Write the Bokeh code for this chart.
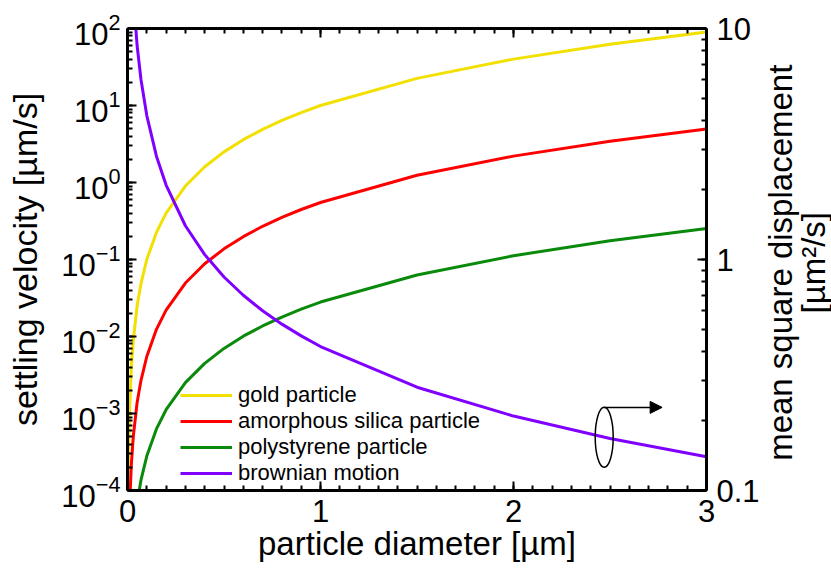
import math

from bokeh.plotting import figure
from bokeh.layouts import row
from bokeh.core.properties import value
from bokeh.models import (Range1d, LogScale, LogAxis, LinearAxis, FixedTicker,
                          Legend, LegendItem, Arrow, NormalHead,
                          CustomJSTickFormatter, LogTickFormatter)
from bokeh.embed import file_html
from bokeh.resources import INLINE

# particle diameter [µm]
diameter = [0.003, 0.005, 0.01, 0.02, 0.03, 0.05, 0.07, 0.1, 0.15, 0.2, 0.3,
            0.4, 0.5, 0.6, 0.7, 0.8, 0.9, 1.0, 1.5, 2.0, 2.5, 3.0]

# settling velocity [µm/s]
gold = [9e-5, 2.5e-4, 1.0e-3, 4.0e-3, 9.0e-3, 2.5e-2, 4.9e-2, 0.10, 0.225, 0.40,
        0.90, 1.6, 2.5, 3.6, 4.9, 6.4, 8.1, 10.0, 22.5, 40.0, 62.5, 90.0]
silica = [5e-6, 1.4e-5, 5.5e-5, 2.2e-4, 5.0e-4, 1.4e-3, 2.7e-3, 5.5e-3, 1.24e-2,
          2.2e-2, 4.95e-2, 8.8e-2, 0.1375, 0.198, 0.27, 0.352, 0.446, 0.55,
          1.24, 2.2, 3.44, 4.95]
polystyrene = [2.5e-7, 7e-7, 2.8e-6, 1.12e-5, 2.5e-5, 7e-5, 1.37e-4, 2.8e-4,
               6.3e-4, 1.12e-3, 2.52e-3, 4.48e-3, 7.0e-3, 1.01e-2, 1.37e-2,
               1.79e-2, 2.27e-2, 2.8e-2, 6.3e-2, 0.112, 0.175, 0.252]

# mean square displacement [µm²/s]
brownian = [140.0, 84.0, 42.0, 21.0, 14.0, 8.4, 6.0, 4.2, 2.8, 2.1, 1.4, 1.05,
            0.84, 0.70, 0.60, 0.525, 0.467, 0.42, 0.28, 0.21, 0.168, 0.14]

series_labels = ["gold particle", "amorphous silica particle",
                 "polystyrene particle", "brownian motion"]
series_colors = ["#f2e000", "#ff0000", "#0a8a0a", "#8000ff"]

x_ticks = [0, 1, 2, 3]
velocity_ticks = [1e-4, 1e-3, 1e-2, 1e-1, 1e0, 1e1, 1e2]
msd_ticks = [0.1, 1, 10]

right_title_lines = ["mean square displacement", "[µm²/s]"]

# marker pointing the brownian curve to the right-hand axis
marker_d = 2.47
marker_msd = 0.17
marker_top = 0.229
arrow_end_d = 2.77

FONT = "Liberation Sans"
TICK_SIZE = "31px"
LABEL_SIZE = "33px"

MAIN_W, TITLE_W, H = 762, 69, 570

p = figure(width=MAIN_W, height=H,
           x_range=Range1d(0, 3), y_range=Range1d(1e-4, 1e2),
           y_axis_type="log", x_axis_location=None, y_axis_location=None,
           output_backend="svg", toolbar_location=None,
           min_border_left=127, min_border_right=54,
           min_border_top=28, min_border_bottom=80)
p.extra_y_ranges = {"msd": Range1d(0.1, 10)}
p.extra_y_scales = {"msd": LogScale()}
p.xgrid.visible = False
p.ygrid.visible = False
p.outline_line_color = None
p.background_fill_color = "white"
p.border_fill_color = "white"

x_minor = [i / 10 for i in range(0, 31)]
v_minor = [m * t for t in velocity_ticks[:-1] for m in range(1, 10)]
msd_minor = [m * t for t in msd_ticks[:-1] for m in range(1, 10)]


def style_axis(ax):
    ax.axis_line_width = 3
    ax.axis_line_color = "black"
    ax.major_tick_in = 9
    ax.major_tick_out = 0
    ax.minor_tick_in = 5
    ax.minor_tick_out = 0
    ax.major_tick_line_width = 2
    ax.minor_tick_line_width = 2
    ax.major_tick_line_color = "black"
    ax.minor_tick_line_color = "black"
    ax.major_label_text_font = FONT
    ax.major_label_text_font_size = TICK_SIZE
    ax.major_label_text_color = "black"
    ax.axis_label_text_font = FONT
    ax.axis_label_text_font_size = LABEL_SIZE
    ax.axis_label_text_font_style = "normal"
    ax.axis_label_text_color = "black"


bottom = LinearAxis(ticker=FixedTicker(ticks=x_ticks, minor_ticks=x_minor),
                    axis_label="particle diameter [µm]")
style_axis(bottom)
bottom.major_label_standoff = 9
bottom.axis_label_standoff = 0
p.add_layout(bottom, "below")

top = LinearAxis(ticker=FixedTicker(ticks=x_ticks, minor_ticks=x_minor),
                 formatter=CustomJSTickFormatter(code="return ''"))
style_axis(top)
top.major_label_text_font_size = "0px"
top.major_label_standoff = 0
p.add_layout(top, "above")

left = LogAxis(ticker=FixedTicker(ticks=velocity_ticks, minor_ticks=v_minor),
               formatter=LogTickFormatter(),
               axis_label="settling velocity [µm/s]")
style_axis(left)
left.major_label_standoff = 7
left.axis_label_standoff = 14
left.axis_label_text_font_size = "34px"
p.add_layout(left, "left")

right = LogAxis(y_range_name="msd",
                ticker=FixedTicker(ticks=msd_ticks, minor_ticks=msd_minor),
                formatter=CustomJSTickFormatter(
                    code="return String(Number(tick.toPrecision(3)))"))
style_axis(right)
right.major_label_standoff = 10
p.add_layout(right, "right")

renderers = []
for values, color in zip([gold, silica, polystyrene], series_colors[:3]):
    renderers.append(p.line(diameter, values, line_color=color, line_width=3))
renderers.append(p.line(diameter, brownian, line_color=series_colors[3],
                        line_width=3, y_range_name="msd"))

legend = Legend(
    items=[LegendItem(label=lab, renderers=[r]) for lab, r in zip(series_labels, renderers)],
    location=(53, 4), orientation="vertical",
    glyph_width=52, glyph_height=26, label_height=26, label_standoff=6,
    spacing=0, padding=0, margin=0,
    border_line_color=None, background_fill_alpha=0,
    label_text_font=FONT, label_text_font_size="22px", label_text_color="black")
p.add_layout(legend)

p.ellipse(x=[marker_d], y=[marker_msd], width=18, height=60,
          width_units="screen", height_units="screen",
          fill_color=None, line_color="black", line_width=1.5, y_range_name="msd")
p.add_layout(Arrow(x_start=marker_d, y_start=marker_top,
                   x_end=arrow_end_d, y_end=marker_top, y_range_name="msd",
                   line_color="black", line_width=1.5,
                   end=NormalHead(size=12, fill_color="black", line_color="black")))

# narrow strip on the right carrying the two-line title of the right axis
t = figure(width=TITLE_W, height=H, x_range=Range1d(0, TITLE_W), y_range=Range1d(0, H),
           x_axis_location=None, y_axis_location=None,
           output_backend="svg", toolbar_location=None,
           min_border_left=0, min_border_right=0, min_border_top=0, min_border_bottom=0)
t.xgrid.visible = False
t.ygrid.visible = False
t.outline_line_color = None
t.background_fill_color = "white"
t.border_fill_color = "white"
title_y = 281
t.text(x=[18, 51], y=[title_y, title_y], text=right_title_lines,
       angle=math.pi / 2, text_align="center", text_baseline="middle",
       text_font=value(FONT), text_font_size=value(LABEL_SIZE), text_color="black")

layout = row(p, t, spacing=0)
open("out.html", "w").write(file_html(layout, INLINE))
